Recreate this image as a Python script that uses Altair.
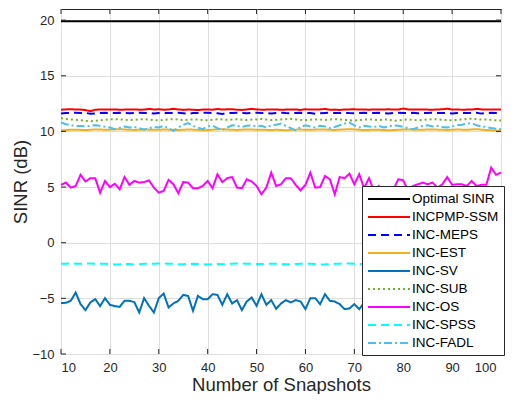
import altair as alt
import pandas as pd

snapshots = list(range(10, 101))

series_names = ["Optimal SINR", "INCPMP-SSM", "INC-MEPS", "INC-EST", "INC-SV",
                "INC-SUB", "INC-OS", "INC-SPSS", "INC-FADL"]
series_colors = ["#000000", "#FF0000", "#0000FF", "#EDB120", "#0072BD",
                 "#77AC30", "#FF00FF", "#00FFFF", "#4DBEEE"]
series_dashes = [[1, 0], [1, 0], [8, 5], [1, 0], [1, 0], [2, 3], [1, 0], [8, 5], [8, 3, 2, 3]]

optimal = [
    19.9, 19.9, 19.9, 19.9, 19.9, 19.9, 19.9, 19.9, 19.9, 19.9,
    19.9, 19.9, 19.9, 19.9, 19.9, 19.9, 19.9, 19.9, 19.9, 19.9,
    19.9, 19.9, 19.9, 19.9, 19.9, 19.9, 19.9, 19.9, 19.9, 19.9,
    19.9, 19.9, 19.9, 19.9, 19.9, 19.9, 19.9, 19.9, 19.9, 19.9,
    19.9, 19.9, 19.9, 19.9, 19.9, 19.9, 19.9, 19.9, 19.9, 19.9,
    19.9, 19.9, 19.9, 19.9, 19.9, 19.9, 19.9, 19.9, 19.9, 19.9,
    19.9, 19.9, 19.9, 19.9, 19.9, 19.9, 19.9, 19.9, 19.9, 19.9,
    19.9, 19.9, 19.9, 19.9, 19.9, 19.9, 19.9, 19.9, 19.9, 19.9,
    19.9, 19.9, 19.9, 19.9, 19.9, 19.9, 19.9, 19.9, 19.9, 19.9,
    19.9]

incpmp_ssm = [
    11.95, 11.98, 12.00, 11.97, 11.96, 11.92, 11.82, 11.95, 11.97, 11.98,
    11.96, 11.97, 11.95, 11.96, 11.97, 11.98, 11.95, 11.96, 12.02, 11.97,
    11.99, 11.95, 11.97, 12.03, 11.98, 11.93, 11.97, 11.95, 11.92, 11.96,
    11.97, 11.95, 12.02, 11.96, 11.99, 12.00, 11.95, 11.93, 11.97, 12.02,
    11.98, 11.95, 11.96, 11.97, 11.98, 11.94, 11.96, 11.98, 11.97, 11.93,
    11.99, 11.96, 11.97, 11.98, 12.02, 11.95, 11.96, 11.93, 11.97, 11.98,
    11.99, 11.96, 11.97, 11.95, 11.98, 11.96, 11.97, 11.99, 11.96, 11.97,
    12.05, 11.98, 11.96, 11.97, 11.98, 11.96, 11.95, 11.97, 11.99, 12.04,
    11.97, 11.98, 11.95, 11.96, 11.97, 12.02, 11.98, 11.97, 11.96, 11.98,
    11.97]

inc_meps = [
    11.60, 11.65, 11.67, 11.68, 11.66, 11.67, 11.58, 11.62, 11.66, 11.67,
    11.65, 11.66, 11.67, 11.65, 11.64, 11.66, 11.67, 11.65, 11.66, 11.60,
    11.66, 11.67, 11.65, 11.66, 11.67, 11.64, 11.57, 11.65, 11.66, 11.67,
    11.68, 11.66, 11.63, 11.57, 11.65, 11.66, 11.67, 11.65, 11.64, 11.66,
    11.67, 11.65, 11.66, 11.60, 11.66, 11.67, 11.65, 11.64, 11.66, 11.67,
    11.65, 11.66, 11.58, 11.64, 11.66, 11.67, 11.65, 11.66, 11.67, 11.65,
    11.64, 11.66, 11.67, 11.65, 11.66, 11.67, 11.65, 11.60, 11.66, 11.67,
    11.65, 11.66, 11.67, 11.64, 11.65, 11.66, 11.67, 11.65, 11.66, 11.64,
    11.62, 11.66, 11.67, 11.65, 11.66, 11.67, 11.60, 11.66, 11.67, 11.66,
    11.65]

inc_est = [
    10.10, 10.12, 10.15, 10.16, 10.14, 10.12, 10.15, 10.18, 10.17, 10.15,
    10.16, 10.18, 10.20, 10.17, 10.15, 10.13, 10.15, 10.17, 10.16, 10.14,
    10.15, 10.17, 10.16, 10.15, 10.13, 10.15, 10.18, 10.16, 10.14, 10.10,
    10.12, 10.16, 10.18, 10.20, 10.17, 10.15, 10.13, 10.16, 10.18, 10.17,
    10.15, 10.16, 10.14, 10.12, 10.15, 10.13, 10.10, 10.14, 10.16, 10.17,
    10.15, 10.14, 10.16, 10.18, 10.17, 10.15, 10.13, 10.16, 10.18, 10.20,
    10.18, 10.15, 10.12, 10.14, 10.16, 10.15, 10.13, 10.10, 10.12, 10.15,
    10.17, 10.18, 10.16, 10.14, 10.15, 10.17, 10.18, 10.16, 10.15, 10.13,
    10.15, 10.17, 10.16, 10.14, 10.18, 10.20, 10.16, 10.13, 10.10, 10.08,
    10.05]

inc_sv = [
    -5.43, -5.40, -5.22, -4.48, -5.52, -6.06, -5.37, -5.07, -5.70, -4.98,
    -5.58, -5.70, -5.76, -5.22, -5.22, -5.34, -6.27, -4.98, -5.67, -6.27,
    -4.98, -4.57, -5.82, -5.46, -5.22, -4.69, -4.78, -6.12, -4.78, -5.07,
    -5.07, -4.63, -4.69, -5.58, -4.63, -5.46, -5.16, -6.06, -5.28, -4.92,
    -5.67, -4.63, -5.58, -5.16, -5.94, -5.46, -5.16, -5.37, -5.16, -5.28,
    -5.97, -4.98, -4.98, -5.52, -4.63, -5.22, -5.28, -5.52, -5.97, -5.91,
    -5.52, -5.97, -5.40, -5.10, -5.60, -5.20, -4.90, -5.50, -5.80, -5.30,
    -5.00, -5.60, -5.20, -5.40, -5.90, -5.10, -4.90, -5.50, -5.30, -5.70,
    -5.20, -4.95, -5.60, -5.30, -5.10, -5.80, -5.40, -5.00, -5.20, -5.05,
    -4.85]

inc_sub = [
    11.20, 11.12, 11.08, 11.05, 11.00, 10.95, 10.92, 10.95, 11.00, 11.05,
    11.08, 11.10, 11.08, 11.05, 11.03, 11.05, 11.08, 11.10, 11.07, 11.02,
    11.00, 11.04, 11.08, 11.10, 11.06, 11.02, 11.05, 11.08, 11.06, 11.03,
    11.00, 11.05, 11.10, 11.08, 11.04, 11.06, 11.09, 11.05, 11.02, 11.06,
    11.08, 11.12, 11.07, 11.02, 11.05, 11.08, 11.10, 11.13, 11.08, 11.04,
    11.02, 11.05, 11.08, 11.06, 11.03, 11.07, 11.10, 11.08, 11.04, 11.00,
    10.98, 11.02, 11.06, 11.09, 11.05, 11.02, 11.06, 11.08, 10.95, 11.00,
    11.05, 11.08, 11.04, 11.00, 11.03, 11.07, 11.10, 11.08, 11.05, 11.02,
    11.00, 11.04, 11.08, 11.12, 11.15, 11.10, 11.06, 11.08, 11.04, 11.00,
    10.98]

inc_os = [
    5.20, 5.40, 4.95, 5.10, 6.10, 5.50, 5.80, 5.80, 4.50, 5.55,
    5.00, 5.30, 4.80, 5.90, 5.20, 5.55, 5.40, 5.45, 5.60, 4.95,
    4.50, 4.65, 5.65, 5.25, 4.45, 5.45, 5.40, 4.90, 4.90, 5.10,
    5.55, 4.90, 6.15, 5.45, 5.80, 5.90, 4.95, 4.90, 5.70, 5.50,
    5.10, 4.35, 4.95, 6.30, 5.10, 5.25, 5.80, 5.80, 5.20, 4.70,
    5.20, 6.30, 4.95, 5.00, 6.00, 5.70, 4.35, 5.90, 5.80, 6.20,
    5.25, 6.15, 4.90, 5.80, 4.65, 5.10, 4.60, 4.80, 4.80, 5.70,
    5.60, 4.70, 5.10, 5.25, 5.40, 5.25, 5.40, 4.95, 5.25, 5.90,
    5.20, 5.25, 5.25, 5.10, 5.55, 5.10, 5.20, 5.20, 6.75, 6.10,
    6.30]

inc_spss = [
    -1.90, -1.88, -1.87, -1.88, -1.89, -1.88, -1.87, -1.88, -1.89, -1.90,
    -1.92, -1.95, -1.93, -1.90, -1.92, -1.96, -1.94, -1.90, -1.88, -1.89,
    -1.87, -1.86, -1.88, -1.90, -1.92, -1.93, -1.91, -1.90, -1.92, -1.94,
    -1.95, -1.93, -1.92, -1.94, -1.90, -1.88, -1.86, -1.87, -1.89, -1.90,
    -1.91, -1.92, -1.90, -1.89, -1.88, -1.90, -1.93, -1.95, -1.92, -1.90,
    -1.88, -1.89, -1.92, -1.95, -1.94, -1.92, -1.90, -1.88, -1.87, -1.86,
    -1.88, -1.90, -1.92, -1.93, -1.91, -1.90, -1.89, -1.90, -1.91, -1.92,
    -1.90, -1.89, -1.88, -1.90, -1.92, -1.91, -1.90, -1.89, -1.88, -1.87,
    -1.88, -1.90, -1.92, -1.91, -1.90, -1.89, -1.88, -1.87, -1.86, -1.88,
    -1.88]

inc_fadl = [
    10.80, 10.65, 10.55, 10.50, 10.48, 10.45, 10.50, 10.55, 10.50, 10.42,
    10.35, 10.20, 10.32, 10.45, 10.35, 10.40, 10.30, 10.15, 10.28, 10.40,
    10.35, 10.50, 10.30, 10.05, 10.35, 10.60, 10.75, 10.50, 10.35, 10.20,
    10.45, 10.52, 10.30, 10.10, 10.35, 10.55, 10.50, 10.40, 10.50, 10.55,
    10.45, 10.50, 10.35, 10.55, 10.60, 10.70, 10.50, 10.30, 10.10, 10.40,
    10.55, 10.45, 10.35, 10.50, 10.45, 10.30, 10.40, 10.55, 10.70, 10.80,
    10.55, 10.35, 10.50, 10.45, 10.40, 10.50, 10.35, 10.45, 10.55, 10.50,
    10.40, 10.30, 10.20, 10.35, 10.50, 10.55, 10.45, 10.50, 10.40, 10.35,
    10.45, 10.55, 10.60, 10.70, 10.75, 10.55, 10.45, 10.40, 10.30, 10.25,
    10.20]

x_ticks = [10, 20, 30, 40, 50, 60, 70, 80, 90, 100]
y_ticks = [-10, -5, 0, 5, 10, 15, 20]

all_series = [optimal, incpmp_ssm, inc_meps, inc_est, inc_sv,
              inc_sub, inc_os, inc_spss, inc_fadl]

rows = []
for name, vals in zip(series_names, all_series):
    for xv, yv in zip(snapshots, vals):
        rows.append({"x": xv, "v": yv, "series": name})
df = pd.DataFrame(rows)

W, H = 440, 345
FONT = "Liberation Sans"

xscale = alt.Scale(domain=[10, 100], nice=False, zero=False)
yscale = alt.Scale(domain=[-10, 21], nice=False, zero=False)

lines = alt.Chart(df).mark_line(strokeWidth=2).encode(
    x=alt.X("x:Q", scale=xscale,
            axis=alt.Axis(values=x_ticks, title="Number of Snapshots",
                          labelFont=FONT, labelFontSize=13, labelColor="#262626",
                          labelOffset=alt.condition("datum.value == 100", alt.value(-5), alt.value(0)),
                          titleFont=FONT, titleFontSize=18.5, titleFontWeight="normal",
                          titleColor="#262626", ticks=False, domain=False,
                          gridColor="#dedede", labelPadding=7,
                          titleY=36, titleBaseline="alphabetic")),
    y=alt.Y("v:Q", scale=yscale,
            axis=alt.Axis(values=y_ticks, title="SINR (dB)",
                          labelFont=FONT, labelFontSize=13, labelColor="#262626",
                          titleFont=FONT, titleFontSize=18.5, titleFontWeight="normal",
                          titleColor="#262626", ticks=False, domain=False,
                          gridColor="#dedede", labelPadding=7,
                          titleX=-41, titleY=H / 2, titleAngle=270,
                          titleAlign="center", titleBaseline="middle")),
    color=alt.Color("series:N", scale=alt.Scale(domain=series_names, range=series_colors),
                    legend=alt.Legend(title=None)),
    strokeDash=alt.StrokeDash("series:N", scale=alt.Scale(domain=series_names, range=series_dashes),
                              legend=alt.Legend(title=None)),
    order=alt.Order("x:Q"),
)

xt = pd.DataFrame({"tx": x_ticks})
yt = pd.DataFrame({"ty": y_ticks})

tick_style = dict(color="#262626", strokeWidth=1)
xb = alt.Chart(xt).mark_rule(**tick_style).encode(
    x=alt.X("tx:Q", scale=xscale), y=alt.value(H), y2=alt.value(H - 5))
xtop = alt.Chart(xt).mark_rule(**tick_style).encode(
    x=alt.X("tx:Q", scale=xscale), y=alt.value(0), y2=alt.value(5))
yl = alt.Chart(yt).mark_rule(**tick_style).encode(
    y=alt.Y("ty:Q", scale=yscale), x=alt.value(0), x2=alt.value(5))
yr = alt.Chart(yt).mark_rule(**tick_style).encode(
    y=alt.Y("ty:Q", scale=yscale), x=alt.value(W), x2=alt.value(W - 5))

chart = alt.layer(lines, xb, xtop, yl, yr).properties(
    width=W, height=H,
    autosize=alt.AutoSizeParams(type="none"),
    padding={"left": 53, "top": 1, "right": 5, "bottom": 40},
).configure_view(
    stroke="#262626", strokeWidth=1
).configure_legend(
    orient="none", legendX=301, legendY=177,
    fillColor="white", strokeColor="#262626", padding=5,
    symbolType="M-1,0H5", symbolSize=196, symbolStrokeWidth=2,
    labelFont=FONT, labelFontSize=13.5, labelColor="#000000", labelOffset=29,
    rowPadding=3, labelLimit=300,
)

chart.save("out.html", embed_options={"renderer": "svg", "actions": False})
